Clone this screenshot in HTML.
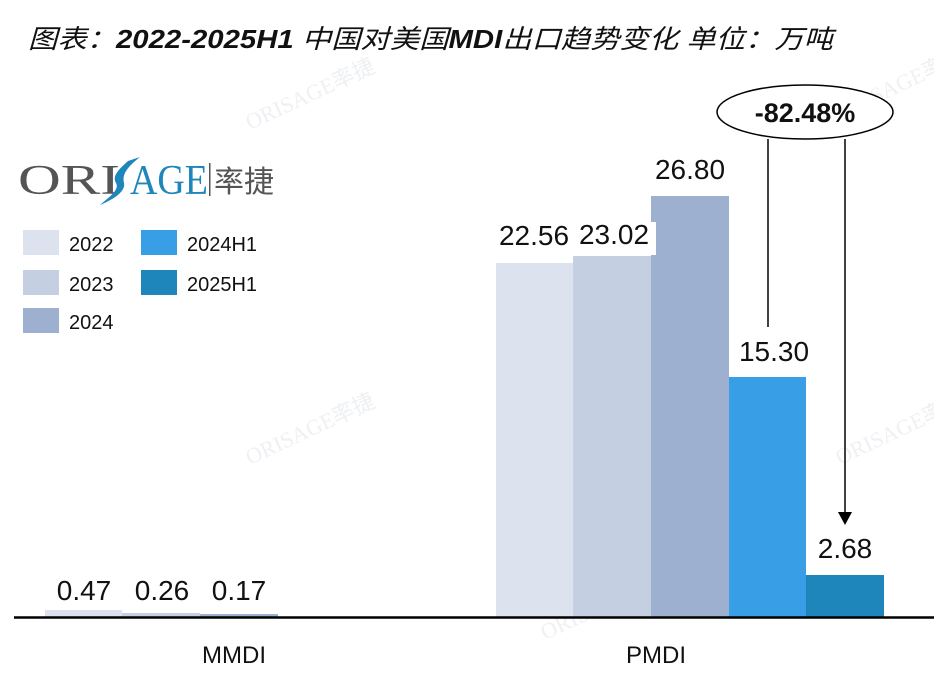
<!DOCTYPE html>
<html><head><meta charset="utf-8"><style>
html,body{margin:0;padding:0;background:#fff;}
svg{display:block;}
</style></head><body>
<svg width="934" height="674" viewBox="0 0 934 674" xmlns="http://www.w3.org/2000/svg" font-family="'Liberation Sans','DejaVu Sans',sans-serif">
<rect width="934" height="674" fill="#fff"/>
<!-- watermarks -->
<g fill="#eef0f3" font-family="'Liberation Serif',serif" font-size="22">
<text x="250" y="130" transform="rotate(-25 250 130)">ORISAGE率捷</text>
<text x="250" y="465" transform="rotate(-25 250 465)">ORISAGE率捷</text>
<text x="840" y="465" transform="rotate(-25 840 465)">ORISAGE率捷</text>
<text x="545" y="640" transform="rotate(-25 545 640)">ORISAGE率捷</text>
<text x="840" y="120" transform="rotate(-25 840 120)">ORISAGE率捷</text>
</g>
<!-- title -->
<text x="28" y="48" font-size="26" font-style="italic" textLength="805" lengthAdjust="spacingAndGlyphs" font-family="'Liberation Sans','Noto Sans CJK SC',sans-serif" fill="#111">图表：<tspan font-weight="bold">2022-2025H1</tspan> 中国对美国<tspan font-weight="bold">MDI</tspan>出口趋势变化 单位：万吨</text>
<!-- logo -->
<text x="18" y="194" font-family="'Liberation Serif',serif" font-size="42" fill="#555" textLength="102" lengthAdjust="spacingAndGlyphs">ORI</text>
<path d="M128 161 C118 170,112 176,116 183 C120 190,108 198,100 205 C112 200,126 192,124 183 C122 175,126 168,140 157 Z" fill="#1f86bb"/>
<text x="130" y="194" font-family="'Liberation Serif',serif" font-size="42" fill="#1f86bb" textLength="78" lengthAdjust="spacingAndGlyphs">AGE</text>
<rect x="209" y="163" width="1.5" height="33" fill="#555"/>
<text x="214" y="192" font-family="'Noto Sans CJK SC',sans-serif" font-size="30" fill="#555">率捷</text>
<!-- legend -->
<g font-size="20" fill="#111">
<rect x="23" y="230" width="36" height="25" fill="#dde3ee"/><text x="69" y="251">2022</text>
<rect x="23" y="270" width="36" height="25" fill="#c5cfe2"/><text x="69" y="291">2023</text>
<rect x="23" y="308" width="36" height="25" fill="#9db0cf"/><text x="69" y="329">2024</text>
<rect x="141" y="230" width="36" height="25" fill="#389ee6"/><text x="187" y="251">2024H1</text>
<rect x="141" y="270" width="36" height="25" fill="#1f86bb"/><text x="187" y="291">2025H1</text>
</g>
<!-- bars -->
<rect x="45" y="610" width="77" height="7" fill="#dde3ee"/>
<rect x="122" y="613" width="78" height="4" fill="#c5cfe2"/>
<rect x="200" y="614" width="78" height="3" fill="#9db0cf"/>
<rect x="496" y="263" width="77" height="354" fill="#dde3ee"/>
<rect x="573" y="256" width="78" height="361" fill="#c5cfe2"/>
<rect x="651" y="196" width="78" height="421" fill="#9db0cf"/>
<rect x="729" y="377" width="77" height="240" fill="#389ee6"/>
<rect x="806" y="575" width="78" height="42" fill="#1f86bb"/>
<rect x="576" y="222" width="80" height="33" fill="#fff"/>
<!-- labels -->
<g font-size="28" fill="#111" text-anchor="middle">
<text x="84" y="600">0.47</text>
<text x="162" y="600">0.26</text>
<text x="239" y="600">0.17</text>
<text x="534" y="245">22.56</text>
<text x="614" y="244">23.02</text>
<text x="690" y="179">26.80</text>
<text x="774" y="361">15.30</text>
<text x="845" y="558">2.68</text>
</g>
<line x1="14" y1="617.5" x2="934" y2="617.5" stroke="#000" stroke-width="2.5"/>
<g font-size="24" fill="#111" text-anchor="middle">
<text x="234" y="663">MMDI</text>
<text x="656" y="663">PMDI</text>
</g>
<!-- annotation -->
<ellipse cx="805" cy="112" rx="88" ry="27" fill="#fff" stroke="#000" stroke-width="1.5"/>
<text x="805" y="122" font-size="27" font-weight="bold" text-anchor="middle" fill="#111">-82.48%</text>
<line x1="768" y1="139" x2="768" y2="327" stroke="#000" stroke-width="1.5"/>
<line x1="845" y1="139" x2="845" y2="513" stroke="#000" stroke-width="1.5"/>
<polygon points="838,512 852,512 845,525" fill="#000"/>
</svg>
</body></html>
